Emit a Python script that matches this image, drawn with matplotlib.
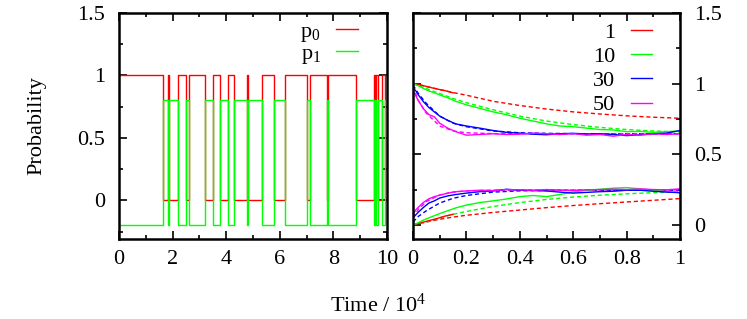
import matplotlib
matplotlib.use("Agg")
import matplotlib.pyplot as plt
from matplotlib.ticker import MultipleLocator

plt.rcParams["font.family"] = ["Liberation Serif", "DejaVu Serif"]
plt.rcParams["mathtext.fontset"] = "custom"
plt.rcParams["mathtext.rm"] = "Liberation Serif"
plt.rcParams["mathtext.default"] = "regular"
plt.rcParams["font.size"] = 16

# left panel: switching times of one trajectory (time / 10^4), starts in state 0
switch_t = [1.65, 1.82, 1.85, 2.2, 2.5, 2.6, 3.2, 3.5, 3.75, 4.05, 4.3, 4.78, 4.82,
            5.32, 5.8, 6.2, 7.0, 7.13, 7.76, 7.79, 8.84, 9.5, 9.55, 9.6, 9.66, 9.8, 9.93]
t_end = 10.0
p1_shift = -0.2  # p1 drawn shifted down for visibility

# right panel: averaged probabilities for N = 1, 10, 30, 50
n_labels = ["1", "10", "30", "50"]
colors = ["#ff0000", "#00ff00", "#0000ff", "#ff00ff"]

# simulation (solid)
red_sim_x = [0, 0.03, 0.06, 0.09, 0.12, 0.15]
red_up_sim = [1.0, 0.99, 0.975, 0.962, 0.95, 0.935]
red_lo_sim = [0, 0.015, 0.03, 0.045, 0.062, 0.075]

sim_x = [0, 0.01, 0.02, 0.04, 0.06, 0.08, 0.1, 0.13, 0.16, 0.2, 0.25, 0.3, 0.35,
         0.4, 0.45, 0.5, 0.55, 0.6, 0.65, 0.7, 0.75, 0.8, 0.85, 0.9, 0.95, 1.0]
green_up_sim = [1.0, 0.993, 0.985, 0.965, 0.948, 0.935, 0.92, 0.9, 0.875, 0.85, 0.825, 0.8, 0.78,
                0.755, 0.735, 0.715, 0.7, 0.695, 0.685, 0.675, 0.672, 0.66, 0.662, 0.655, 0.66, 0.665]
blue_up_sim = [0.97, 0.95, 0.92, 0.87, 0.83, 0.8, 0.77, 0.74, 0.715, 0.7, 0.685, 0.668, 0.655,
               0.65, 0.642, 0.638, 0.645, 0.648, 0.643, 0.645, 0.64, 0.632, 0.638, 0.645, 0.65, 0.668]
magenta_up_sim = [0.95, 0.915, 0.88, 0.82, 0.78, 0.765, 0.72, 0.685, 0.66, 0.635, 0.64, 0.645, 0.64,
                  0.642, 0.65, 0.645, 0.64, 0.646, 0.635, 0.64, 0.628, 0.64, 0.635, 0.645, 0.64, 0.645]
green_lo_sim = [0, 0.008, 0.015, 0.035, 0.05, 0.065, 0.08, 0.1, 0.12, 0.14, 0.158, 0.17, 0.183,
                0.2, 0.208, 0.2, 0.215, 0.232, 0.245, 0.252, 0.26, 0.264, 0.255, 0.245, 0.235, 0.228]
blue_lo_sim = [0.05, 0.07, 0.09, 0.125, 0.155, 0.17, 0.19, 0.205, 0.215, 0.225, 0.235, 0.24, 0.252,
               0.245, 0.243, 0.24, 0.232, 0.225, 0.23, 0.235, 0.238, 0.245, 0.245, 0.238, 0.232, 0.228]
magenta_lo_sim = [0.07, 0.105, 0.125, 0.16, 0.185, 0.2, 0.21, 0.225, 0.235, 0.24, 0.245, 0.243, 0.25,
                  0.248, 0.245, 0.25, 0.246, 0.242, 0.248, 0.25, 0.253, 0.25, 0.255, 0.25, 0.248, 0.255]

# theory (dashed)
th_x = [0, 0.02, 0.05, 0.1, 0.15, 0.2, 0.3, 0.4, 0.5, 0.6, 0.7, 0.8, 0.9, 1.0]
red_up_th = [1.0, 0.992, 0.98, 0.958, 0.937, 0.918, 0.875, 0.845, 0.82, 0.8, 0.785, 0.772, 0.762, 0.755]
green_up_th = [1.0, 0.985, 0.965, 0.93, 0.895, 0.865, 0.815, 0.77, 0.735, 0.71, 0.69, 0.675, 0.665, 0.658]
blue_up_th = [0.99, 0.93, 0.86, 0.77, 0.72, 0.695, 0.665, 0.652, 0.648, 0.646, 0.645, 0.645, 0.645, 0.645]
magenta_up_th = [0.98, 0.88, 0.79, 0.7, 0.665, 0.652, 0.646, 0.645, 0.645, 0.645, 0.645, 0.645, 0.645, 0.645]
red_lo_th = [0, 0.008, 0.02, 0.04, 0.055, 0.068, 0.088, 0.105, 0.122, 0.137, 0.15, 0.162, 0.174, 0.186]
green_lo_th = [0, 0.008, 0.02, 0.05, 0.075, 0.095, 0.13, 0.158, 0.18, 0.197, 0.21, 0.22, 0.228, 0.234]
blue_lo_th = [0.02, 0.06, 0.1, 0.155, 0.188, 0.208, 0.232, 0.241, 0.244, 0.245, 0.245, 0.245, 0.245, 0.245]
magenta_lo_th = [0.05, 0.11, 0.165, 0.212, 0.232, 0.241, 0.246, 0.247, 0.247, 0.247, 0.247, 0.247, 0.247, 0.247]


def style_axes(ax):
    for s in ax.spines.values():
        s.set_linewidth(1.8)
    ax.tick_params(which="both", direction="in", top=True, right=True, width=1.2)
    ax.tick_params(which="major", length=6)
    ax.tick_params(which="minor", length=3)


fig = plt.figure(figsize=(7.47, 3.19), dpi=100)
ax1 = fig.add_axes([119 / 747, 80 / 319, 268 / 747, 226 / 319])
ax2 = fig.add_axes([413 / 747, 80 / 319, 267 / 747, 226 / 319])

# left panel
edges = [0.0] + switch_t + [t_end]
p0 = [1 - (i % 2) for i in range(len(edges) - 1)]
p0 = p0 + [p0[-1]]
p1 = [1 - v + p1_shift for v in p0]
ax1.step(edges, p0, where="post", color=colors[0], lw=1, label=r"p$_0$")
ax1.step(edges, p1, where="post", color=colors[1], lw=1, label=r"p$_1$")
ax1.set_xlim(0, 10)
ax1.set_ylim(-0.31, 1.5)
ax1.xaxis.set_minor_locator(MultipleLocator(1))
ax1.yaxis.set_minor_locator(MultipleLocator(0.25))
ax1.set_yticks([0, 0.5, 1, 1.5])
ax1.set_yticklabels(["0", "0.5", "1", "1.5"])
ax1.set_xticks(range(0, 11, 2))
style_axes(ax1)
ax1.tick_params(which="major", axis="y", pad=10)
ax1.tick_params(which="major", axis="x", pad=8)
ax1.set_ylabel("Probability")
ax1.yaxis.set_label_coords(-0.27, 0.5)
ax1.legend(loc="upper right", bbox_to_anchor=(0.89, 0.962), frameon=False,
           markerfirst=False, handlelength=0.95, handletextpad=0.7,
           labelspacing=-0.03, borderpad=0, borderaxespad=0)

# right panel
up_sim = [green_up_sim, blue_up_sim, magenta_up_sim]
lo_sim = [green_lo_sim, blue_lo_sim, magenta_lo_sim]
up_th = [red_up_th, green_up_th, blue_up_th, magenta_up_th]
lo_th = [red_lo_th, green_lo_th, blue_lo_th, magenta_lo_th]

for c, yu, yl in zip(colors, up_th, lo_th):
    ax2.plot(th_x, yu, color=c, lw=1, dashes=(3, 2))
    ax2.plot(th_x, yl, color=c, lw=1, dashes=(3, 2))
ax2.plot(red_sim_x, red_up_sim, color=colors[0], lw=1, label=n_labels[0])
ax2.plot(red_sim_x, red_lo_sim, color=colors[0], lw=1)
for c, lab, yu, yl in zip(colors[1:], n_labels[1:], up_sim, lo_sim):
    ax2.plot(sim_x, yu, color=c, lw=1, label=lab)
    ax2.plot(sim_x, yl, color=c, lw=1)

ax2.set_xlim(0, 1)
ax2.set_ylim(-0.1, 1.5)
ax2.xaxis.set_minor_locator(MultipleLocator(0.1))
ax2.yaxis.set_minor_locator(MultipleLocator(0.25))
ax2.set_xticks([0, 0.2, 0.4, 0.6, 0.8, 1.0])
ax2.set_xticklabels(["0", "0.2", "0.4", "0.6", "0.8", "1"])
ax2.set_yticks([0, 0.5, 1, 1.5])
ax2.set_yticklabels(["0", "0.5", "1", "1.5"])
style_axes(ax2)
ax2.tick_params(axis="y", labelleft=False, labelright=True)
ax2.tick_params(which="major", axis="y", pad=10)
ax2.tick_params(which="major", axis="x", pad=8)
ax2.legend(loc="upper right", bbox_to_anchor=(0.895, 0.958), frameon=False,
           markerfirst=False, handlelength=0.95, handletextpad=0.7,
           labelspacing=0.16, borderpad=0, borderaxespad=0)

fig.text(0.506, 0.044, r"Time / 10$^4$", ha="center", va="center")

fig.savefig("out.png", dpi=100)
